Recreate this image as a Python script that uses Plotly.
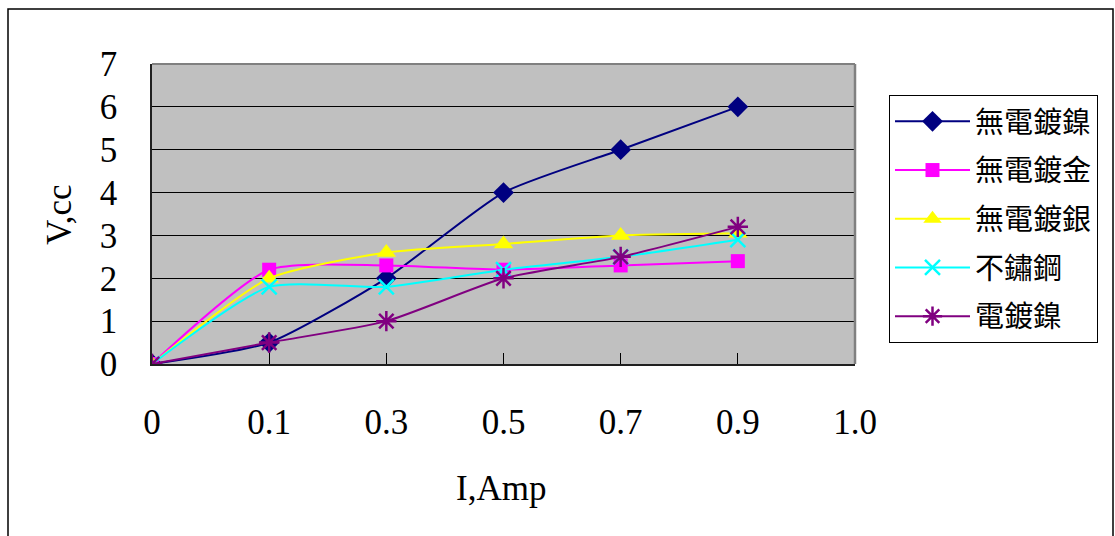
import plotly.graph_objects as go

# ---- data ----
x_labels = ["0", "0.1", "0.3", "0.5", "0.7", "0.9", "1.0"]
x_pos = list(range(len(x_labels)))

s_names = ["無電鍍鎳", "無電鍍金", "無電鍍銀", "不鏽鋼", "電鍍鎳"]
v_ni_el = [0, 0.5, 2.0, 4.0, 5.0, 6.0]
v_au_el = [0, 2.2, 2.3, 2.2, 2.3, 2.4]
v_ag_el = [0, 2.0, 2.6, 2.8, 3.0, 3.05]
v_ss = [0, 1.8, 1.8, 2.2, 2.5, 2.9]
v_ni_ep = [0, 0.5, 1.0, 2.0, 2.5, 3.2]

series = [v_ni_el, v_au_el, v_ag_el, v_ss, v_ni_ep]
colors = ["#000080", "#FF00FF", "#FFFF00", "#00FFFF", "#800080"]
symbols = ["diamond", "square", "triangle-up", "x-thin-open", "asterisk-open"]
msizes = [16, 14, 17, 15, 17]

W, H = 1115, 536
L, R, T, B = 152, 855, 64, 364

fig = go.Figure()
for i, (name, vals) in enumerate(zip(s_names, series)):
    fig.add_trace(go.Scatter(
        x=x_pos[:len(vals)], y=vals, name=name, mode="lines+markers",
        line=dict(color=colors[i], width=2, shape="spline", smoothing=0.6),
        marker=dict(symbol=symbols[i], size=msizes[i], color=colors[i],
                    line=dict(color=colors[i], width=2.5 if i >= 3 else 0)),
        legendgroup=f"g{i}",
    ))

def px_x(p):
    return (p - L) / (R - L)

def px_y(p):
    return (B - p) / (B - T)

tick_font = dict(family="Liberation Serif", size=35, color="black")

fig.update_layout(
    width=W, height=H,
    margin=dict(l=L, r=W - R, t=T, b=H - B, autoexpand=False),
    paper_bgcolor="white", plot_bgcolor="#C0C0C0",
    showlegend=True,
    legend=dict(
        x=px_x(889), y=px_y(95), xanchor="left", yanchor="top",
        bordercolor="black", borderwidth=1, bgcolor="white",
        font=dict(family="Noto Sans CJK TC", size=29, color="black"),
        itemwidth=75, tracegroupgap=8,
    ),
    xaxis=dict(
        range=[0, 6], tickvals=x_pos, ticktext=x_labels,
        showgrid=False, zeroline=False,
        showline=True, linecolor="#202020", linewidth=1.5,
        ticks="inside", ticklen=11, tickcolor="black", tickwidth=1,
        tickfont=tick_font, ticklabelstandoff=26,
    ),
    yaxis=dict(
        range=[0, 7], dtick=1, tick0=0,
        showgrid=True, gridcolor="black", gridwidth=1,
        zeroline=False,
        showline=True, linecolor="#202020", linewidth=1.5,
        ticks="inside", ticklen=11, tickcolor="black", tickwidth=1,
        tickfont=tick_font, ticklabelstandoff=26,
    ),
    annotations=[
        dict(text="I,Amp", xref="paper", yref="paper", x=px_x(501), y=px_y(488),
             xanchor="center", yanchor="middle", showarrow=False,
             font=dict(family="Liberation Serif", size=35, color="black")),
        dict(text="V,cc", xref="paper", yref="paper", x=px_x(59), y=px_y(215),
             xanchor="center", yanchor="middle", showarrow=False, textangle=-90,
             font=dict(family="Liberation Serif", size=35, color="black")),
    ],
    shapes=[
        # plot area top and right border (gray)
        dict(type="line", xref="paper", yref="paper", x0=0, x1=1, y0=1, y1=1,
             line=dict(color="#808080", width=2)),
        dict(type="line", xref="paper", yref="paper", x0=1, x1=1, y0=0, y1=1,
             line=dict(color="#808080", width=2.5)),
        # outer chart border
        dict(type="rect", xref="paper", yref="paper",
             x0=px_x(8), x1=px_x(1113), y0=px_y(545), y1=px_y(9),
             line=dict(color="black", width=1.5), layer="below"),
    ],
)

fig.write_html("out.html")
